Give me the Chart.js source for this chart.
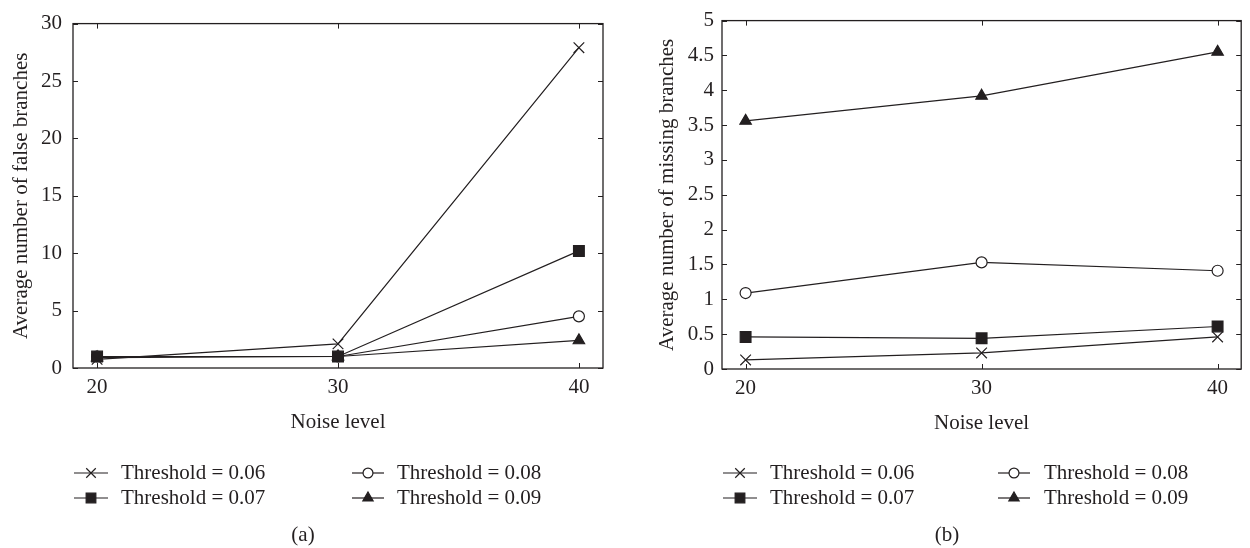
<!DOCTYPE html>
<html>
<head>
<meta charset="utf-8">
<script src="https://cdn.jsdelivr.net/npm/chart.js@4/dist/chart.umd.min.js"></script>
<style>
html, body { margin: 0; padding: 0; background: #fff; }
#wrap { display: flex; width: 1250px; height: 548px; }
.box { width: 625px; height: 548px; }
</style>
</head>
<body>
<div id="wrap">
  <div class="box"><canvas id="chartA" width="625" height="548"></canvas></div>
  <div class="box"><canvas id="chartB" width="625" height="548"></canvas></div>
</div>
<script>
// data
var noiseLevels = [20, 30, 40];
var seriesNames = ['Threshold = 0.06', 'Threshold = 0.07', 'Threshold = 0.08', 'Threshold = 0.09'];

var falseT06 = [0.75, 2.1, 27.9];
var falseT07 = [1.0, 1.0, 10.2];
var falseT08 = [1.0, 1.0, 4.5];
var falseT09 = [0.9, 1.0, 2.4];
var falseTicks = [0, 5, 10, 15, 20, 25, 30];

var missT06 = [0.13, 0.23, 0.46];
var missT07 = [0.46, 0.44, 0.61];
var missT08 = [1.09, 1.53, 1.41];
var missT09 = [3.56, 3.92, 4.55];
var missTicks = [0, 0.5, 1, 1.5, 2, 2.5, 3, 3.5, 4, 4.5, 5];

var ink = '#231f20';
var serif = '"Liberation Serif", "Times New Roman", serif';
var font = { family: serif, size: 21 };

// marker looks, same order as seriesNames
var markers = [
    { style: 'crossRot', radius: 7.5, fill: ink },
    { style: 'rect', radius: 7.6, fill: ink },
    { style: 'circle', radius: 5.5, fill: '#fff' },
    { style: 'triangle', radius: 6.6, fill: ink }
];

function series(i, values) {
    var m = markers[i];
    return {
        label: seriesNames[i],
        data: noiseLevels.map(function (x, k) { return { x: x, y: values[k] }; }),
        borderColor: ink,
        borderWidth: 1.2,
        pointStyle: m.style,
        pointRadius: m.radius,
        pointBackgroundColor: m.fill,
        pointBorderColor: ink,
        pointBorderWidth: 1.2,
        tension: 0,
        fill: false
    };
}

function drawMarker(ctx, m, x, y, r) {
    ctx.beginPath();
    if (m.style == 'circle') {
        ctx.arc(x, y, r, 0, Math.PI * 2);
        ctx.fillStyle = m.fill; ctx.fill(); ctx.stroke();
    } else if (m.style == 'rect') {
        var s = r * Math.SQRT1_2;
        ctx.rect(x - s, y - s, 2 * s, 2 * s);
        ctx.fillStyle = m.fill; ctx.fill(); ctx.stroke();
    } else if (m.style == 'triangle') {
        var rad = 0;
        ctx.moveTo(x + Math.sin(rad) * r, y - Math.cos(rad) * r);
        rad += Math.PI * 2 / 3;
        ctx.lineTo(x + Math.sin(rad) * r, y - Math.cos(rad) * r);
        rad += Math.PI * 2 / 3;
        ctx.lineTo(x + Math.sin(rad) * r, y - Math.cos(rad) * r);
        ctx.closePath();
        ctx.fillStyle = m.fill; ctx.fill(); ctx.stroke();
    } else {
        var o = Math.cos(Math.PI / 4) * r;
        ctx.moveTo(x - o, y - o); ctx.lineTo(x + o, y + o);
        ctx.moveTo(x - o, y + o); ctx.lineTo(x + o, y - o);
        ctx.stroke();
    }
}

// box around the plot, inward ticks on all four sides, legend and caption
var framePlugin = {
    id: 'frame',
    afterDraw: function (chart, args, opts) {
        var ctx = chart.ctx, a = chart.chartArea;
        var xs = chart.scales.x, ys = chart.scales.y;
        ctx.save();
        ctx.strokeStyle = ink;
        ctx.lineWidth = 1.3;
        ctx.strokeRect(a.left, a.top, a.right - a.left, a.bottom - a.top);
        ctx.beginPath();
        xs.ticks.forEach(function (t) {
            var px = Math.round(xs.getPixelForValue(t.value)) + 0.5;
            ctx.moveTo(px, a.bottom); ctx.lineTo(px, a.bottom - 5);
            ctx.moveTo(px, a.top); ctx.lineTo(px, a.top + 5);
        });
        ys.ticks.forEach(function (t) {
            var py = Math.round(ys.getPixelForValue(t.value)) + 0.5;
            ctx.moveTo(a.left, py); ctx.lineTo(a.left + 5, py);
            ctx.moveTo(a.right, py); ctx.lineTo(a.right - 5, py);
        });
        ctx.lineWidth = 1;
        ctx.stroke();

        // legend: two columns, two rows
        ctx.font = font.size + 'px ' + serif;
        ctx.textBaseline = 'middle';
        ctx.textAlign = 'left';
        chart.data.datasets.forEach(function (ds, i) {
            var col = opts.cols[i < 2 ? 0 : 1];
            var y = opts.rows[i % 2];
            ctx.strokeStyle = ink;
            ctx.lineWidth = 1.2;
            ctx.beginPath();
            ctx.moveTo(col.x0, y); ctx.lineTo(col.x1, y);
            ctx.stroke();
            drawMarker(ctx, markers[i], (col.x0 + col.x1) / 2, y, markers[i].radius * 0.9);
            ctx.fillStyle = ink;
            ctx.fillText(ds.label, col.tx, y);
        });

        ctx.textAlign = 'center';
        ctx.fillText(opts.caption, opts.capX, opts.capY);
        ctx.restore();
    }
};

function makeChart(id, sets, yTicks, yMax, yTitle, yWidth, yPad, yTitlePad, pad, frame) {
    return new Chart(document.getElementById(id), {
        type: 'line',
        data: { datasets: sets },
        options: {
            responsive: false,
            animation: false,
            layout: { padding: pad },
            plugins: { legend: { display: false }, tooltip: { enabled: false }, frame: frame },
            scales: {
                x: {
                    type: 'linear', min: 19, max: 41,
                    afterBuildTicks: function (s) { s.ticks = noiseLevels.map(function (v) { return { value: v }; }); },
                    afterFit: function (s) { s.height = 70; },
                    grid: { display: false, drawTicks: false },
                    border: { display: false },
                    ticks: { padding: 7, color: ink, font: font, maxRotation: 0, autoSkip: false },
                    title: { display: true, text: 'Noise level', color: ink, font: font, padding: { top: 0, bottom: 3 } }
                },
                y: {
                    type: 'linear', min: 0, max: yMax,
                    afterBuildTicks: function (s) { s.ticks = yTicks.map(function (v) { return { value: v }; }); },
                    afterFit: function (s) { s.width = yWidth; },
                    grid: { display: false, drawTicks: false },
                    border: { display: false },
                    ticks: { padding: yPad, color: ink, font: font, autoSkip: false, callback: function (v) { return String(v); } },
                    title: { display: true, text: yTitle, color: ink, font: font, padding: { top: yTitlePad, bottom: 0 } }
                }
            }
        },
        plugins: [framePlugin]
    });
}

makeChart('chartA',
    [series(0, falseT06), series(1, falseT07), series(2, falseT08), series(3, falseT09)],
    falseTicks, 30, 'Average number of false branches', 73, 11, 9,
    { left: 0, top: 14, right: 22, bottom: 110 },
    { cols: [{ x0: 74, x1: 108, tx: 121 }, { x0: 352, x1: 384, tx: 397 }], rows: [473, 498], caption: '(a)', capX: 303, capY: 535 });

makeChart('chartB',
    [series(0, missT06), series(1, missT07), series(2, missT08), series(3, missT09)],
    missTicks, 5, 'Average number of missing branches', 97, 8, 30,
    { left: 0, top: 15, right: 6, bottom: 109 },
    { cols: [{ x0: 98, x1: 132, tx: 145 }, { x0: 373, x1: 405, tx: 419 }], rows: [473, 498], caption: '(b)', capX: 322, capY: 535 });
</script>
</body>
</html>
